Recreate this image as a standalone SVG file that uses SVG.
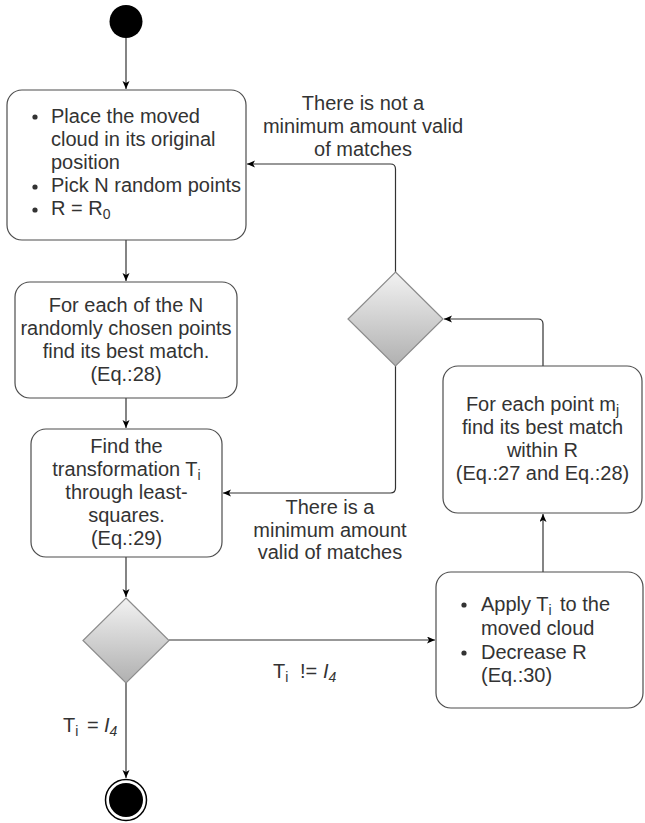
<svg xmlns="http://www.w3.org/2000/svg" width="645" height="823" viewBox="0 0 645 823">
  <style>
    .box { fill: #ffffff; stroke: #4d4d4d; stroke-width: 1.2; }
    .dia { fill: url(#g); stroke: #8c8c8c; stroke-width: 1.2; }
    .t { font-family: "Liberation Sans", Arial, sans-serif; font-size: 20px; fill: #333333; }
    .c { text-anchor: middle; }
    .sub { font-size: 14px; }
    .edge { fill: none; stroke: #333333; stroke-width: 1.2; marker-end: url(#arr); }
    .bul { fill: #333333; }
  </style>
  <defs>
    <linearGradient id="g" x1="0" y1="0" x2="0" y2="1">
      <stop offset="0" stop-color="#f2f2f2"/>
      <stop offset="1" stop-color="#b0b0b0"/>
    </linearGradient>
    <marker id="arr" markerUnits="userSpaceOnUse" markerWidth="10" markerHeight="10" refX="8" refY="3.5" orient="auto">
      <path d="M0,0 L8,3.5 L0,7 L2,3.5 Z" fill="#000000"/>
    </marker>
  </defs>
  <rect width="645" height="823" fill="#ffffff"/>

  <g id="connectors">
    <path class="edge" d="M126,38 L126,89"/>
    <path class="edge" d="M126,240 L126,281"/>
    <path class="edge" d="M126,398 L126,428"/>
    <path class="edge" d="M126,557 L126,597"/>
    <path class="edge" d="M169,640 L435,640"/>
    <path class="edge" d="M126,683 L126,778"/>
    <path class="edge" d="M543,572 L543,514"/>
    <path class="edge" d="M543,366 L543,324 Q543,319 538,319 L444,319"/>
    <path class="edge" d="M395.5,272 L395.5,169 Q395.5,164 390.5,164 L247,164"/>
    <path class="edge" d="M395.5,366 L395.5,488 Q395.5,493 390.5,493 L223,493"/>
  </g>

  <g id="start">
    <circle cx="126" cy="21.5" r="16.5" fill="#000000"/>
  </g>

  <g id="box1">
    <rect class="box" x="7" y="90" width="239" height="150" rx="15" ry="15"/>
    <circle class="bul" cx="35" cy="117" r="2.6"/>
    <circle class="bul" cx="35" cy="187" r="2.6"/>
    <circle class="bul" cx="35" cy="210" r="2.6"/>
    <text class="t" x="51" y="123">Place the moved</text>
    <text class="t" x="51" y="146">cloud in its original</text>
    <text class="t" x="51" y="169">position</text>
    <text class="t" x="51" y="192">Pick N random points</text>
    <text class="t" x="51" y="215">R = R<tspan class="sub" dy="4">0</tspan></text>
  </g>

  <g id="box2">
    <rect class="box" x="15" y="282" width="222" height="116" rx="15" ry="15"/>
    <text class="t c" x="126" y="312">For each of the N</text>
    <text class="t c" x="126" y="335">randomly chosen points</text>
    <text class="t c" x="126" y="358">find its best match.</text>
    <text class="t c" x="126" y="381">(Eq.:28)</text>
  </g>

  <g id="box3">
    <rect class="box" x="31" y="429" width="191" height="128" rx="15" ry="15"/>
    <text class="t c" x="126.5" y="453">Find the</text>
    <text class="t c" x="126.5" y="476">transformation T<tspan class="sub" dy="4">i</tspan></text>
    <text class="t c" x="126.5" y="499">through least-</text>
    <text class="t c" x="126.5" y="522">squares.</text>
    <text class="t c" x="126.5" y="545">(Eq.:29)</text>
  </g>

  <g id="decision2">
    <polygon class="dia" points="395.5,272 443,319 395.5,366 348,319"/>
  </g>

  <g id="box4">
    <rect class="box" x="443" y="366" width="199" height="147" rx="15" ry="15"/>
    <text class="t c" x="542.5" y="411">For each point m<tspan class="sub" dy="4">j</tspan></text>
    <text class="t c" x="542.5" y="434">find its best match</text>
    <text class="t c" x="542.5" y="457">within R</text>
    <text class="t c" x="542.5" y="480">(Eq.:27 and Eq.:28)</text>
  </g>

  <g id="box5">
    <rect class="box" x="436" y="572" width="207" height="136" rx="15" ry="15"/>
    <circle class="bul" cx="464" cy="605" r="2.6"/>
    <circle class="bul" cx="464" cy="653" r="2.6"/>
    <text class="t" x="481" y="611">Apply T<tspan class="sub" dy="4">i</tspan><tspan dy="-4" x="560">to the</tspan></text>
    <text class="t" x="481" y="635">moved cloud</text>
    <text class="t" x="481" y="659">Decrease R</text>
    <text class="t" x="481" y="682">(Eq.:30)</text>
  </g>

  <g id="decision1">
    <polygon class="dia" points="126,598 169,640.5 126,683 83,640.5"/>
  </g>

  <g id="end">
    <circle cx="126" cy="800" r="20.5" fill="#ffffff" stroke="#000000" stroke-width="1.5"/>
    <circle cx="126" cy="800" r="17" fill="#000000"/>
  </g>

  <g id="labels">
    <text class="t c" x="363" y="110">There is not a</text>
    <text class="t c" x="363" y="133">minimum amount valid</text>
    <text class="t c" x="363" y="156">of matches</text>
    <text class="t c" x="330" y="514">There is a</text>
    <text class="t c" x="330" y="537">minimum amount</text>
    <text class="t c" x="330" y="559">valid of matches</text>
    <text class="t" x="273" y="678">T<tspan class="sub" dy="4">i</tspan><tspan x="300" dy="-4">!=</tspan><tspan x="323" font-style="italic">I</tspan><tspan class="sub" font-style="italic" dy="4">4</tspan></text>
    <text class="t" x="63" y="732">T<tspan class="sub" dy="4">i</tspan><tspan x="87" dy="-4">=</tspan><tspan x="104" font-style="italic">I</tspan><tspan class="sub" font-style="italic" dy="4">4</tspan></text>
  </g>
</svg>
